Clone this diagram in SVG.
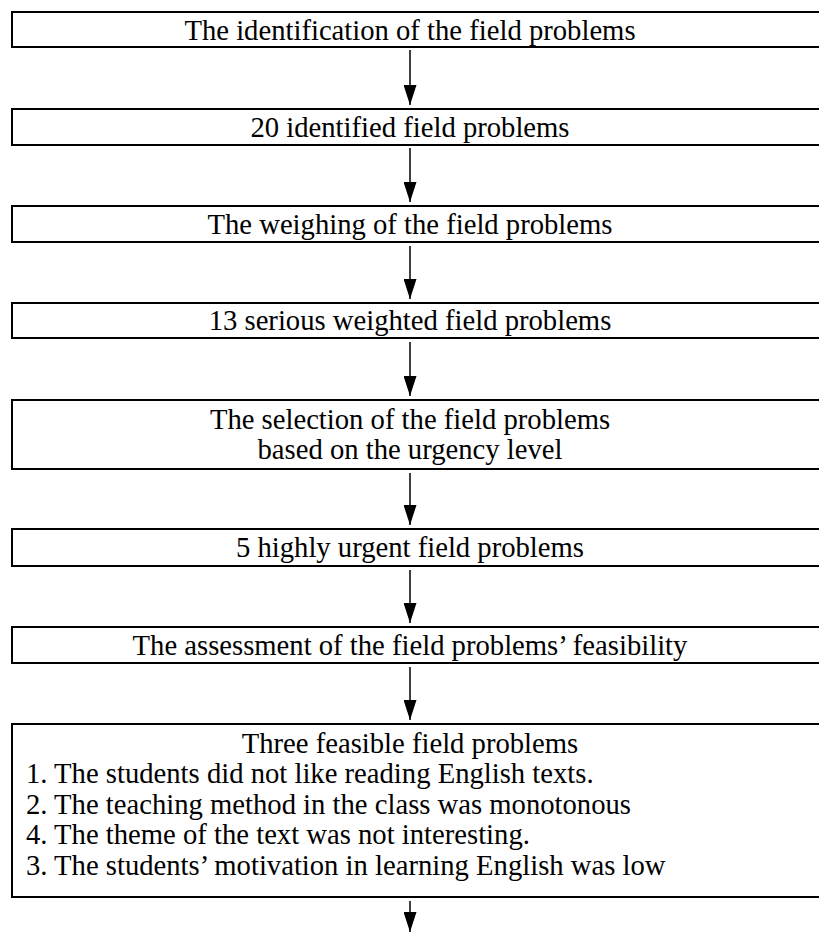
<svg xmlns="http://www.w3.org/2000/svg" width="819" height="934" viewBox="0 0 819 934">
<defs>
<style>
.box{fill:#fff;stroke:#000;stroke-width:2}
.t{font-family:"Liberation Serif","Times New Roman",serif;font-size:30.5px;fill:#000}
.c{text-anchor:middle}
.ln{stroke:#000;stroke-width:1.5}
</style>
<marker id="ah" markerWidth="20" markerHeight="13" refX="20" refY="6.5" orient="auto" markerUnits="userSpaceOnUse" viewBox="0 0 20 13">
<path d="M0,0 L20,6.5 L0,13 Z" fill="#000"/>
</marker>
</defs>
<rect width="819" height="934" fill="#fff"/>
<g id="n1"><rect class="box" x="12" y="12" width="820" height="35"/><text class="t c" x="410" y="40" transform="matrix(0.94,0,0,1,24.6,0)">The identification of the field problems</text></g>
<g id="n2"><rect class="box" x="12" y="109" width="820" height="36"/><text class="t c" x="410" y="137" transform="matrix(0.94,0,0,1,24.6,0)">20 identified field problems</text></g>
<g id="n3"><rect class="box" x="12" y="206" width="820" height="36"/><text class="t c" x="410" y="234" transform="matrix(0.94,0,0,1,24.6,0)">The weighing of the field problems</text></g>
<g id="n4"><rect class="box" x="12" y="303" width="820" height="35"/><text class="t c" x="410" y="330" transform="matrix(0.94,0,0,1,24.6,0)">13 serious weighted field problems</text></g>
<g id="n5"><rect class="box" x="12" y="400" width="820" height="69"/><text class="t c" x="410" y="429" transform="matrix(0.94,0,0,1,24.6,0)">The selection of the field problems</text><text class="t c" x="410" y="459" transform="matrix(0.94,0,0,1,24.6,0)">based on the urgency level</text></g>
<g id="n6"><rect class="box" x="12" y="529" width="820" height="37"/><text class="t c" x="410" y="557" transform="matrix(0.94,0,0,1,24.6,0)">5 highly urgent field problems</text></g>
<g id="n7"><rect class="box" x="12" y="627" width="820" height="36"/><text class="t c" x="410" y="655" transform="matrix(0.94,0,0,1,24.6,0)">The assessment of the field problems’ feasibility</text></g>
<g id="n8"><rect class="box" x="12" y="724" width="820" height="173"/>
<text class="t c" x="410" y="753" transform="matrix(0.94,0,0,1,24.6,0)">Three feasible field problems</text>
<g transform="matrix(0.94,0,0,1,1.56,0)">
<text class="t" x="26" y="783">1. The students did not like reading English texts.</text>
<text class="t" x="26" y="814">2. The teaching method in the class was monotonous</text>
<text class="t" x="26" y="844">4. The theme of the text was not interesting.</text>
<text class="t" x="26" y="875">3. The students’ motivation in learning English was low</text>
</g>
</g>
<g id="connectors">
<line class="ln" x1="410" y1="50" x2="410" y2="105" marker-end="url(#ah)"/>
<line class="ln" x1="410" y1="148" x2="410" y2="202" marker-end="url(#ah)"/>
<line class="ln" x1="410" y1="246" x2="410" y2="299" marker-end="url(#ah)"/>
<line class="ln" x1="410" y1="342" x2="410" y2="396" marker-end="url(#ah)"/>
<line class="ln" x1="410" y1="473" x2="410" y2="525" marker-end="url(#ah)"/>
<line class="ln" x1="410" y1="570" x2="410" y2="623" marker-end="url(#ah)"/>
<line class="ln" x1="410" y1="667" x2="410" y2="720" marker-end="url(#ah)"/>
<line class="ln" x1="410" y1="901" x2="410" y2="932" marker-end="url(#ah)"/>
</g>
</svg>
